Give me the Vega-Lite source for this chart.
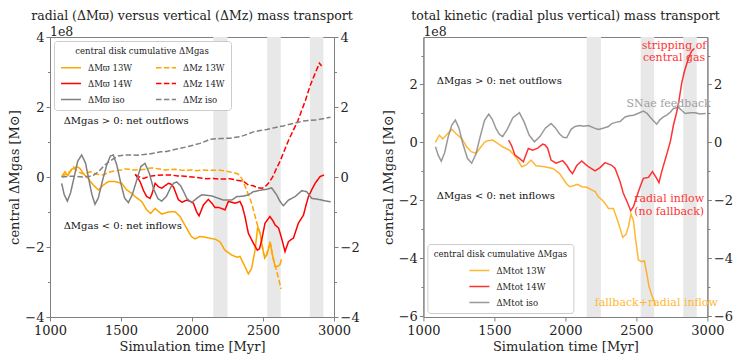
{
  "$schema": "https://vega.github.io/schema/vega-lite/v6.json",
  "background": "white",
  "padding": {"left": 8, "top": 9, "right": 0, "bottom": 0},
  "config": {
    "font": "DejaVu Serif",
    "view": {"stroke": "#808080", "strokeWidth": 1},
    "axis": {"labelFont": "DejaVu Serif", "labelFontSize": 13, "labelColor": "#222222", "labelFlush": false, "titleFont": "DejaVu Serif", "titleFontSize": 13, "titleFontWeight": "normal", "titleColor": "#222222", "domainColor": "#808080", "tickColor": "#808080", "grid": false, "labelPadding": 2},
    "axisX": {"labelPadding": 3, "titlePadding": 3},
    "title": {"font": "DejaVu Serif", "fontSize": 12.5, "fontWeight": "normal", "color": "#222222", "offset": 0, "frame": "group"},
    "legend": {"labelFont": "DejaVu Serif", "labelFontSize": 8.5, "labelColor": "#222222", "titleFont": "DejaVu Serif", "titleFontSize": 8.5, "titleFontWeight": "normal", "titleColor": "#222222", "fillColor": "white", "strokeColor": "#cccccc", "cornerRadius": 3, "padding": 6, "symbolStrokeWidth": 1.5, "symbolType": "stroke", "symbolSize": 400, "rowPadding": -12, "labelOffset": 6, "titleAnchor": "middle", "titlePadding": 1}
  },
  "datasets": {
    "bands": [{"t0": 2150, "t1": 2250}, {"t0": 2530, "t1": 2625}, {"t0": 2830, "t1": 2925}],
    "ann": [
      {"panel": "L", "grp": "offset", "t": 1000, "v": 4, "label": "1e8"},
      {"panel": "R", "grp": "offset", "t": 1000, "v": 3.64, "label": "1e8"},
      {"panel": "L", "grp": "sign", "t": 1096, "v": 1.6, "label": "ΔMgas > 0: net outflows"},
      {"panel": "L", "grp": "sign", "t": 1096, "v": -1.4, "label": "ΔMgas < 0: net inflows"},
      {"panel": "R", "grp": "sign", "t": 1094, "v": 2.11, "label": "ΔMgas > 0: net outflows"},
      {"panel": "R", "grp": "sign", "t": 1094, "v": -1.85, "label": "ΔMgas < 0: net inflows"},
      {"panel": "R", "grp": "14W", "t": 2765, "v": 3.32, "label": "stripping of"},
      {"panel": "R", "grp": "14W", "t": 2765, "v": 2.91, "label": "central gas"},
      {"panel": "R", "grp": "iso", "t": 2727, "v": 1.32, "label": "SNae feedback"},
      {"panel": "R", "grp": "14W", "t": 2731, "v": -1.96, "label": "radial inflow"},
      {"panel": "R", "grp": "14W", "t": 2731, "v": -2.41, "label": "(no fallback)"},
      {"panel": "R", "grp": "13W", "t": 2640, "v": -5.54, "label": "fallback+radial inflow"}
    ],
    "rv": [
      {"s": "ΔMϖ 13W", "t": 1082, "v": 0.01}, {"s": "ΔMϖ 13W", "t": 1106, "v": 0.15}, {"s": "ΔMϖ 13W", "t": 1125, "v": 0.04}, {"s": "ΔMϖ 13W", "t": 1153, "v": 0.22}, {"s": "ΔMϖ 13W", "t": 1188, "v": 0.29}, {"s": "ΔMϖ 13W", "t": 1210, "v": 0.25}, {"s": "ΔMϖ 13W", "t": 1235, "v": 0.1}, {"s": "ΔMϖ 13W", "t": 1270, "v": -0.05}, {"s": "ΔMϖ 13W", "t": 1305, "v": -0.23}, {"s": "ΔMϖ 13W", "t": 1341, "v": -0.37}, {"s": "ΔMϖ 13W", "t": 1376, "v": -0.23}, {"s": "ΔMϖ 13W", "t": 1411, "v": -0.13}, {"s": "ΔMϖ 13W", "t": 1458, "v": -0.13}, {"s": "ΔMϖ 13W", "t": 1505, "v": -0.18}, {"s": "ΔMϖ 13W", "t": 1540, "v": -0.37}, {"s": "ΔMϖ 13W", "t": 1570, "v": -0.45}, {"s": "ΔMϖ 13W", "t": 1599, "v": -0.56}, {"s": "ΔMϖ 13W", "t": 1646, "v": -0.7}, {"s": "ΔMϖ 13W", "t": 1681, "v": -0.94}, {"s": "ΔMϖ 13W", "t": 1709, "v": -1.04}, {"s": "ΔMϖ 13W", "t": 1740, "v": -0.9}, {"s": "ΔMϖ 13W", "t": 1787, "v": -1.06}, {"s": "ΔMϖ 13W", "t": 1834, "v": -1.0}, {"s": "ΔMϖ 13W", "t": 1880, "v": -0.99}, {"s": "ΔMϖ 13W", "t": 1916, "v": -1.13}, {"s": "ΔMϖ 13W", "t": 1963, "v": -1.47}, {"s": "ΔMϖ 13W", "t": 1995, "v": -1.7}, {"s": "ΔMϖ 13W", "t": 2021, "v": -1.77}, {"s": "ΔMϖ 13W", "t": 2056, "v": -1.7}, {"s": "ΔMϖ 13W", "t": 2092, "v": -1.72}, {"s": "ΔMϖ 13W", "t": 2127, "v": -1.75}, {"s": "ΔMϖ 13W", "t": 2165, "v": -1.78}, {"s": "ΔMϖ 13W", "t": 2197, "v": -1.85}, {"s": "ΔMϖ 13W", "t": 2232, "v": -2.09}, {"s": "ΔMϖ 13W", "t": 2280, "v": -2.23}, {"s": "ΔMϖ 13W", "t": 2315, "v": -2.29}, {"s": "ΔMϖ 13W", "t": 2338, "v": -2.27}, {"s": "ΔMϖ 13W", "t": 2362, "v": -2.47}, {"s": "ΔMϖ 13W", "t": 2397, "v": -2.77}, {"s": "ΔMϖ 13W", "t": 2420, "v": -2.61}, {"s": "ΔMϖ 13W", "t": 2444, "v": -2.09}, {"s": "ΔMϖ 13W", "t": 2463, "v": -1.42}, {"s": "ΔMϖ 13W", "t": 2480, "v": -1.6}, {"s": "ΔMϖ 13W", "t": 2495, "v": -2.0}, {"s": "ΔMϖ 13W", "t": 2512, "v": -2.32}, {"s": "ΔMϖ 13W", "t": 2530, "v": -2.2}, {"s": "ΔMϖ 13W", "t": 2550, "v": -1.85}, {"s": "ΔMϖ 13W", "t": 2565, "v": -2.2}, {"s": "ΔMϖ 13W", "t": 2585, "v": -2.56}, {"s": "ΔMϖ 13W", "t": 2605, "v": -2.55}, {"s": "ΔMϖ 13W", "t": 2620, "v": -2.5}, {"s": "ΔMϖ 13W", "t": 2630, "v": -2.35},
      {"s": "ΔMz 13W", "t": 1082, "v": 0.0}, {"s": "ΔMz 13W", "t": 1100, "v": 0.05}, {"s": "ΔMz 13W", "t": 1117, "v": 0.1}, {"s": "ΔMz 13W", "t": 1140, "v": 0.15}, {"s": "ΔMz 13W", "t": 1165, "v": 0.29}, {"s": "ΔMz 13W", "t": 1180, "v": 0.2}, {"s": "ΔMz 13W", "t": 1200, "v": 0.15}, {"s": "ΔMz 13W", "t": 1225, "v": 0.1}, {"s": "ΔMz 13W", "t": 1247, "v": 0.1}, {"s": "ΔMz 13W", "t": 1282, "v": 0.15}, {"s": "ΔMz 13W", "t": 1305, "v": 0.12}, {"s": "ΔMz 13W", "t": 1329, "v": 0.08}, {"s": "ΔMz 13W", "t": 1376, "v": 0.06}, {"s": "ΔMz 13W", "t": 1411, "v": 0.13}, {"s": "ΔMz 13W", "t": 1458, "v": 0.18}, {"s": "ΔMz 13W", "t": 1500, "v": 0.2}, {"s": "ΔMz 13W", "t": 1528, "v": 0.23}, {"s": "ΔMz 13W", "t": 1560, "v": 0.22}, {"s": "ΔMz 13W", "t": 1599, "v": 0.2}, {"s": "ΔMz 13W", "t": 1640, "v": 0.21}, {"s": "ΔMz 13W", "t": 1669, "v": 0.22}, {"s": "ΔMz 13W", "t": 1710, "v": 0.26}, {"s": "ΔMz 13W", "t": 1740, "v": 0.25}, {"s": "ΔMz 13W", "t": 1780, "v": 0.22}, {"s": "ΔMz 13W", "t": 1810, "v": 0.2}, {"s": "ΔMz 13W", "t": 1850, "v": 0.21}, {"s": "ΔMz 13W", "t": 1880, "v": 0.22}, {"s": "ΔMz 13W", "t": 1920, "v": 0.2}, {"s": "ΔMz 13W", "t": 1963, "v": 0.19}, {"s": "ΔMz 13W", "t": 2000, "v": 0.2}, {"s": "ΔMz 13W", "t": 2033, "v": 0.18}, {"s": "ΔMz 13W", "t": 2070, "v": 0.2}, {"s": "ΔMz 13W", "t": 2104, "v": 0.19}, {"s": "ΔMz 13W", "t": 2150, "v": 0.19}, {"s": "ΔMz 13W", "t": 2197, "v": 0.19}, {"s": "ΔMz 13W", "t": 2240, "v": 0.17}, {"s": "ΔMz 13W", "t": 2268, "v": 0.14}, {"s": "ΔMz 13W", "t": 2300, "v": 0.12}, {"s": "ΔMz 13W", "t": 2327, "v": 0.08}, {"s": "ΔMz 13W", "t": 2350, "v": -0.04}, {"s": "ΔMz 13W", "t": 2385, "v": -0.37}, {"s": "ΔMz 13W", "t": 2420, "v": -0.75}, {"s": "ΔMz 13W", "t": 2456, "v": -1.3}, {"s": "ΔMz 13W", "t": 2484, "v": -1.7}, {"s": "ΔMz 13W", "t": 2505, "v": -2.2}, {"s": "ΔMz 13W", "t": 2520, "v": -2.3}, {"s": "ΔMz 13W", "t": 2540, "v": -2.0}, {"s": "ΔMz 13W", "t": 2555, "v": -1.95}, {"s": "ΔMz 13W", "t": 2570, "v": -2.3}, {"s": "ΔMz 13W", "t": 2590, "v": -2.6}, {"s": "ΔMz 13W", "t": 2610, "v": -2.9}, {"s": "ΔMz 13W", "t": 2627, "v": -3.2},
      {"s": "ΔMϖ 14W", "t": 1600, "v": 0.08}, {"s": "ΔMϖ 14W", "t": 1634, "v": -0.13}, {"s": "ΔMϖ 14W", "t": 1660, "v": -0.4}, {"s": "ΔMϖ 14W", "t": 1681, "v": -0.56}, {"s": "ΔMϖ 14W", "t": 1704, "v": -0.61}, {"s": "ΔMϖ 14W", "t": 1716, "v": -0.51}, {"s": "ΔMϖ 14W", "t": 1740, "v": -0.18}, {"s": "ΔMϖ 14W", "t": 1765, "v": -0.28}, {"s": "ΔMϖ 14W", "t": 1787, "v": -0.32}, {"s": "ΔMϖ 14W", "t": 1810, "v": -0.25}, {"s": "ΔMϖ 14W", "t": 1834, "v": -0.18}, {"s": "ΔMϖ 14W", "t": 1850, "v": -0.2}, {"s": "ΔMϖ 14W", "t": 1869, "v": -0.28}, {"s": "ΔMϖ 14W", "t": 1890, "v": -0.5}, {"s": "ΔMϖ 14W", "t": 1904, "v": -0.65}, {"s": "ΔMϖ 14W", "t": 1930, "v": -0.72}, {"s": "ΔMϖ 14W", "t": 1963, "v": -0.66}, {"s": "ΔMϖ 14W", "t": 1990, "v": -0.7}, {"s": "ΔMϖ 14W", "t": 2010, "v": -0.75}, {"s": "ΔMϖ 14W", "t": 2033, "v": -1.0}, {"s": "ΔMϖ 14W", "t": 2050, "v": -1.11}, {"s": "ΔMϖ 14W", "t": 2080, "v": -0.8}, {"s": "ΔMϖ 14W", "t": 2115, "v": -0.64}, {"s": "ΔMϖ 14W", "t": 2140, "v": -0.75}, {"s": "ΔMϖ 14W", "t": 2162, "v": -0.87}, {"s": "ΔMϖ 14W", "t": 2186, "v": -0.87}, {"s": "ΔMϖ 14W", "t": 2210, "v": -0.9}, {"s": "ΔMϖ 14W", "t": 2232, "v": -0.94}, {"s": "ΔMϖ 14W", "t": 2256, "v": -0.7}, {"s": "ΔMϖ 14W", "t": 2280, "v": -0.72}, {"s": "ΔMϖ 14W", "t": 2303, "v": -0.75}, {"s": "ΔMϖ 14W", "t": 2338, "v": -0.7}, {"s": "ΔMϖ 14W", "t": 2355, "v": -0.85}, {"s": "ΔMϖ 14W", "t": 2373, "v": -1.13}, {"s": "ΔMϖ 14W", "t": 2397, "v": -1.61}, {"s": "ΔMϖ 14W", "t": 2432, "v": -1.89}, {"s": "ΔMϖ 14W", "t": 2460, "v": -2.09}, {"s": "ΔMϖ 14W", "t": 2475, "v": -2.05}, {"s": "ΔMϖ 14W", "t": 2491, "v": -1.8}, {"s": "ΔMϖ 14W", "t": 2514, "v": -1.32}, {"s": "ΔMϖ 14W", "t": 2549, "v": -1.13}, {"s": "ΔMϖ 14W", "t": 2570, "v": -1.25}, {"s": "ΔMϖ 14W", "t": 2585, "v": -1.37}, {"s": "ΔMϖ 14W", "t": 2610, "v": -1.46}, {"s": "ΔMϖ 14W", "t": 2631, "v": -1.75}, {"s": "ΔMϖ 14W", "t": 2655, "v": -2.13}, {"s": "ΔMϖ 14W", "t": 2679, "v": -1.85}, {"s": "ΔMϖ 14W", "t": 2700, "v": -1.78}, {"s": "ΔMϖ 14W", "t": 2714, "v": -1.75}, {"s": "ΔMϖ 14W", "t": 2749, "v": -1.32}, {"s": "ΔMϖ 14W", "t": 2785, "v": -1.09}, {"s": "ΔMϖ 14W", "t": 2800, "v": -0.85}, {"s": "ΔMϖ 14W", "t": 2820, "v": -0.56}, {"s": "ΔMϖ 14W", "t": 2845, "v": -0.35}, {"s": "ΔMϖ 14W", "t": 2867, "v": -0.18}, {"s": "ΔMϖ 14W", "t": 2902, "v": 0.01}, {"s": "ΔMϖ 14W", "t": 2930, "v": 0.06},
      {"s": "ΔMz 14W", "t": 1600, "v": 0.06}, {"s": "ΔMz 14W", "t": 1630, "v": 0.0}, {"s": "ΔMz 14W", "t": 1658, "v": -0.04}, {"s": "ΔMz 14W", "t": 1700, "v": 0.02}, {"s": "ΔMz 14W", "t": 1750, "v": 0.05}, {"s": "ΔMz 14W", "t": 1798, "v": 0.06}, {"s": "ΔMz 14W", "t": 1845, "v": 0.06}, {"s": "ΔMz 14W", "t": 1900, "v": 0.03}, {"s": "ΔMz 14W", "t": 1951, "v": 0.02}, {"s": "ΔMz 14W", "t": 2000, "v": 0.0}, {"s": "ΔMz 14W", "t": 2050, "v": -0.02}, {"s": "ΔMz 14W", "t": 2100, "v": -0.05}, {"s": "ΔMz 14W", "t": 2150, "v": -0.04}, {"s": "ΔMz 14W", "t": 2200, "v": -0.06}, {"s": "ΔMz 14W", "t": 2268, "v": -0.05}, {"s": "ΔMz 14W", "t": 2315, "v": -0.09}, {"s": "ΔMz 14W", "t": 2362, "v": -0.12}, {"s": "ΔMz 14W", "t": 2397, "v": -0.23}, {"s": "ΔMz 14W", "t": 2432, "v": -0.25}, {"s": "ΔMz 14W", "t": 2456, "v": -0.3}, {"s": "ΔMz 14W", "t": 2491, "v": -0.32}, {"s": "ΔMz 14W", "t": 2510, "v": -0.3}, {"s": "ΔMz 14W", "t": 2538, "v": -0.18}, {"s": "ΔMz 14W", "t": 2568, "v": 0.0}, {"s": "ΔMz 14W", "t": 2590, "v": 0.2}, {"s": "ΔMz 14W", "t": 2620, "v": 0.45}, {"s": "ΔMz 14W", "t": 2645, "v": 0.7}, {"s": "ΔMz 14W", "t": 2680, "v": 1.05}, {"s": "ΔMz 14W", "t": 2714, "v": 1.34}, {"s": "ΔMz 14W", "t": 2745, "v": 1.6}, {"s": "ΔMz 14W", "t": 2773, "v": 1.91}, {"s": "ΔMz 14W", "t": 2800, "v": 2.2}, {"s": "ΔMz 14W", "t": 2831, "v": 2.6}, {"s": "ΔMz 14W", "t": 2867, "v": 2.96}, {"s": "ΔMz 14W", "t": 2897, "v": 3.25}, {"s": "ΔMz 14W", "t": 2913, "v": 3.17},
      {"s": "ΔMϖ iso", "t": 1082, "v": -0.18}, {"s": "ΔMϖ iso", "t": 1100, "v": -0.5}, {"s": "ΔMϖ iso", "t": 1122, "v": -0.69}, {"s": "ΔMϖ iso", "t": 1145, "v": -0.45}, {"s": "ΔMϖ iso", "t": 1170, "v": 0.0}, {"s": "ΔMϖ iso", "t": 1195, "v": 0.45}, {"s": "ΔMϖ iso", "t": 1223, "v": 0.63}, {"s": "ΔMϖ iso", "t": 1250, "v": 0.4}, {"s": "ΔMϖ iso", "t": 1270, "v": 0.0}, {"s": "ΔMϖ iso", "t": 1295, "v": -0.5}, {"s": "ΔMϖ iso", "t": 1317, "v": -0.78}, {"s": "ΔMϖ iso", "t": 1340, "v": -0.6}, {"s": "ΔMϖ iso", "t": 1370, "v": -0.1}, {"s": "ΔMϖ iso", "t": 1400, "v": 0.35}, {"s": "ΔMϖ iso", "t": 1425, "v": 0.6}, {"s": "ΔMϖ iso", "t": 1446, "v": 0.63}, {"s": "ΔMϖ iso", "t": 1470, "v": 0.35}, {"s": "ΔMϖ iso", "t": 1500, "v": -0.2}, {"s": "ΔMϖ iso", "t": 1525, "v": -0.6}, {"s": "ΔMϖ iso", "t": 1552, "v": -0.73}, {"s": "ΔMϖ iso", "t": 1580, "v": -0.5}, {"s": "ΔMϖ iso", "t": 1610, "v": -0.1}, {"s": "ΔMϖ iso", "t": 1640, "v": 0.3}, {"s": "ΔMϖ iso", "t": 1669, "v": 0.39}, {"s": "ΔMϖ iso", "t": 1700, "v": 0.1}, {"s": "ΔMϖ iso", "t": 1730, "v": -0.35}, {"s": "ΔMϖ iso", "t": 1760, "v": -0.62}, {"s": "ΔMϖ iso", "t": 1787, "v": -0.69}, {"s": "ΔMϖ iso", "t": 1820, "v": -0.55}, {"s": "ΔMϖ iso", "t": 1850, "v": -0.3}, {"s": "ΔMϖ iso", "t": 1870, "v": -0.18}, {"s": "ΔMϖ iso", "t": 1892, "v": -0.14}, {"s": "ΔMϖ iso", "t": 1920, "v": -0.25}, {"s": "ΔMϖ iso", "t": 1945, "v": -0.45}, {"s": "ΔMϖ iso", "t": 1963, "v": -0.61}, {"s": "ΔMϖ iso", "t": 1998, "v": -0.73}, {"s": "ΔMϖ iso", "t": 2030, "v": -0.62}, {"s": "ΔMϖ iso", "t": 2068, "v": -0.51}, {"s": "ΔMϖ iso", "t": 2100, "v": -0.52}, {"s": "ΔMϖ iso", "t": 2139, "v": -0.54}, {"s": "ΔMϖ iso", "t": 2180, "v": -0.6}, {"s": "ΔMϖ iso", "t": 2221, "v": -0.66}, {"s": "ΔMϖ iso", "t": 2280, "v": -0.66}, {"s": "ΔMϖ iso", "t": 2315, "v": -0.56}, {"s": "ΔMϖ iso", "t": 2360, "v": -0.55}, {"s": "ΔMϖ iso", "t": 2397, "v": -0.51}, {"s": "ΔMϖ iso", "t": 2432, "v": -0.42}, {"s": "ΔMϖ iso", "t": 2491, "v": -0.37}, {"s": "ΔMϖ iso", "t": 2530, "v": -0.35}, {"s": "ΔMϖ iso", "t": 2561, "v": -0.31}, {"s": "ΔMϖ iso", "t": 2596, "v": -0.51}, {"s": "ΔMϖ iso", "t": 2620, "v": -0.7}, {"s": "ΔMϖ iso", "t": 2643, "v": -0.82}, {"s": "ΔMϖ iso", "t": 2679, "v": -0.66}, {"s": "ΔMϖ iso", "t": 2726, "v": -0.56}, {"s": "ΔMϖ iso", "t": 2773, "v": -0.39}, {"s": "ΔMϖ iso", "t": 2808, "v": -0.42}, {"s": "ΔMϖ iso", "t": 2843, "v": -0.61}, {"s": "ΔMϖ iso", "t": 2890, "v": -0.64}, {"s": "ΔMϖ iso", "t": 2937, "v": -0.68}, {"s": "ΔMϖ iso", "t": 2977, "v": -0.71},
      {"s": "ΔMz iso", "t": 1082, "v": 0.0}, {"s": "ΔMz iso", "t": 1130, "v": 0.02}, {"s": "ΔMz iso", "t": 1180, "v": 0.02}, {"s": "ΔMz iso", "t": 1230, "v": 0.0}, {"s": "ΔMz iso", "t": 1280, "v": 0.02}, {"s": "ΔMz iso", "t": 1305, "v": 0.05}, {"s": "ΔMz iso", "t": 1340, "v": 0.15}, {"s": "ΔMz iso", "t": 1388, "v": 0.35}, {"s": "ΔMz iso", "t": 1420, "v": 0.45}, {"s": "ΔMz iso", "t": 1446, "v": 0.52}, {"s": "ΔMz iso", "t": 1480, "v": 0.6}, {"s": "ΔMz iso", "t": 1528, "v": 0.63}, {"s": "ΔMz iso", "t": 1570, "v": 0.63}, {"s": "ΔMz iso", "t": 1610, "v": 0.62}, {"s": "ΔMz iso", "t": 1660, "v": 0.64}, {"s": "ΔMz iso", "t": 1700, "v": 0.66}, {"s": "ΔMz iso", "t": 1728, "v": 0.68}, {"s": "ΔMz iso", "t": 1780, "v": 0.72}, {"s": "ΔMz iso", "t": 1822, "v": 0.73}, {"s": "ΔMz iso", "t": 1870, "v": 0.78}, {"s": "ΔMz iso", "t": 1916, "v": 0.82}, {"s": "ΔMz iso", "t": 1963, "v": 0.86}, {"s": "ΔMz iso", "t": 2000, "v": 0.9}, {"s": "ΔMz iso", "t": 2056, "v": 0.96}, {"s": "ΔMz iso", "t": 2100, "v": 1.03}, {"s": "ΔMz iso", "t": 2127, "v": 1.08}, {"s": "ΔMz iso", "t": 2200, "v": 1.1}, {"s": "ΔMz iso", "t": 2268, "v": 1.11}, {"s": "ΔMz iso", "t": 2338, "v": 1.15}, {"s": "ΔMz iso", "t": 2390, "v": 1.22}, {"s": "ΔMz iso", "t": 2432, "v": 1.29}, {"s": "ΔMz iso", "t": 2480, "v": 1.33}, {"s": "ΔMz iso", "t": 2526, "v": 1.36}, {"s": "ΔMz iso", "t": 2580, "v": 1.41}, {"s": "ΔMz iso", "t": 2643, "v": 1.46}, {"s": "ΔMz iso", "t": 2714, "v": 1.53}, {"s": "ΔMz iso", "t": 2784, "v": 1.6}, {"s": "ΔMz iso", "t": 2830, "v": 1.62}, {"s": "ΔMz iso", "t": 2878, "v": 1.63}, {"s": "ΔMz iso", "t": 2930, "v": 1.67}, {"s": "ΔMz iso", "t": 2975, "v": 1.71}
    ],
    "tot": [
      {"s": "ΔMtot 13W", "t": 1085, "v": 0.0}, {"s": "ΔMtot 13W", "t": 1100, "v": 0.15}, {"s": "ΔMtot 13W", "t": 1113, "v": 0.25}, {"s": "ΔMtot 13W", "t": 1136, "v": 0.12}, {"s": "ΔMtot 13W", "t": 1160, "v": 0.25}, {"s": "ΔMtot 13W", "t": 1180, "v": 0.35}, {"s": "ΔMtot 13W", "t": 1200, "v": 0.45}, {"s": "ΔMtot 13W", "t": 1230, "v": 0.3}, {"s": "ΔMtot 13W", "t": 1255, "v": 0.2}, {"s": "ΔMtot 13W", "t": 1277, "v": 0.08}, {"s": "ΔMtot 13W", "t": 1305, "v": -0.15}, {"s": "ΔMtot 13W", "t": 1336, "v": -0.32}, {"s": "ΔMtot 13W", "t": 1371, "v": -0.38}, {"s": "ΔMtot 13W", "t": 1406, "v": -0.15}, {"s": "ΔMtot 13W", "t": 1430, "v": 0.0}, {"s": "ΔMtot 13W", "t": 1453, "v": 0.06}, {"s": "ΔMtot 13W", "t": 1488, "v": 0.08}, {"s": "ΔMtot 13W", "t": 1523, "v": -0.03}, {"s": "ΔMtot 13W", "t": 1558, "v": -0.15}, {"s": "ΔMtot 13W", "t": 1606, "v": -0.27}, {"s": "ΔMtot 13W", "t": 1652, "v": -0.5}, {"s": "ΔMtot 13W", "t": 1692, "v": -0.84}, {"s": "ΔMtot 13W", "t": 1723, "v": -0.78}, {"s": "ΔMtot 13W", "t": 1758, "v": -0.61}, {"s": "ΔMtot 13W", "t": 1793, "v": -0.81}, {"s": "ΔMtot 13W", "t": 1852, "v": -0.84}, {"s": "ΔMtot 13W", "t": 1911, "v": -0.9}, {"s": "ΔMtot 13W", "t": 1958, "v": -1.07}, {"s": "ΔMtot 13W", "t": 2005, "v": -1.41}, {"s": "ΔMtot 13W", "t": 2030, "v": -1.53}, {"s": "ΔMtot 13W", "t": 2056, "v": -1.5}, {"s": "ΔMtot 13W", "t": 2085, "v": -1.45}, {"s": "ΔMtot 13W", "t": 2115, "v": -1.53}, {"s": "ΔMtot 13W", "t": 2150, "v": -1.55}, {"s": "ΔMtot 13W", "t": 2185, "v": -1.64}, {"s": "ΔMtot 13W", "t": 2210, "v": -1.7}, {"s": "ΔMtot 13W", "t": 2232, "v": -1.88}, {"s": "ΔMtot 13W", "t": 2260, "v": -2.0}, {"s": "ΔMtot 13W", "t": 2279, "v": -2.1}, {"s": "ΔMtot 13W", "t": 2303, "v": -2.28}, {"s": "ΔMtot 13W", "t": 2338, "v": -2.28}, {"s": "ΔMtot 13W", "t": 2361, "v": -2.6}, {"s": "ΔMtot 13W", "t": 2385, "v": -2.97}, {"s": "ΔMtot 13W", "t": 2404, "v": -3.28}, {"s": "ΔMtot 13W", "t": 2427, "v": -3.17}, {"s": "ΔMtot 13W", "t": 2444, "v": -2.91}, {"s": "ΔMtot 13W", "t": 2462, "v": -2.47}, {"s": "ΔMtot 13W", "t": 2479, "v": -2.7}, {"s": "ΔMtot 13W", "t": 2495, "v": -3.37}, {"s": "ΔMtot 13W", "t": 2514, "v": -4.06}, {"s": "ΔMtot 13W", "t": 2538, "v": -4.12}, {"s": "ΔMtot 13W", "t": 2556, "v": -4.09}, {"s": "ΔMtot 13W", "t": 2573, "v": -4.52}, {"s": "ΔMtot 13W", "t": 2589, "v": -4.98}, {"s": "ΔMtot 13W", "t": 2608, "v": -5.27}, {"s": "ΔMtot 13W", "t": 2627, "v": -5.5}, {"s": "ΔMtot 13W", "t": 2634, "v": -5.65},
      {"s": "ΔMtot 14W", "t": 1600, "v": 0.08}, {"s": "ΔMtot 14W", "t": 1620, "v": -0.1}, {"s": "ΔMtot 14W", "t": 1645, "v": -0.44}, {"s": "ΔMtot 14W", "t": 1676, "v": -0.55}, {"s": "ΔMtot 14W", "t": 1704, "v": -0.67}, {"s": "ΔMtot 14W", "t": 1720, "v": -0.45}, {"s": "ΔMtot 14W", "t": 1739, "v": -0.21}, {"s": "ΔMtot 14W", "t": 1770, "v": -0.27}, {"s": "ΔMtot 14W", "t": 1805, "v": -0.2}, {"s": "ΔMtot 14W", "t": 1840, "v": -0.06}, {"s": "ΔMtot 14W", "t": 1857, "v": -0.09}, {"s": "ΔMtot 14W", "t": 1875, "v": -0.2}, {"s": "ΔMtot 14W", "t": 1899, "v": -0.61}, {"s": "ΔMtot 14W", "t": 1934, "v": -0.72}, {"s": "ΔMtot 14W", "t": 1981, "v": -0.63}, {"s": "ΔMtot 14W", "t": 2009, "v": -0.79}, {"s": "ΔMtot 14W", "t": 2030, "v": -0.96}, {"s": "ΔMtot 14W", "t": 2050, "v": -1.08}, {"s": "ΔMtot 14W", "t": 2080, "v": -0.8}, {"s": "ΔMtot 14W", "t": 2115, "v": -0.64}, {"s": "ΔMtot 14W", "t": 2140, "v": -0.75}, {"s": "ΔMtot 14W", "t": 2162, "v": -0.84}, {"s": "ΔMtot 14W", "t": 2209, "v": -0.98}, {"s": "ΔMtot 14W", "t": 2244, "v": -0.87}, {"s": "ΔMtot 14W", "t": 2279, "v": -0.7}, {"s": "ΔMtot 14W", "t": 2326, "v": -0.79}, {"s": "ΔMtot 14W", "t": 2350, "v": -0.9}, {"s": "ΔMtot 14W", "t": 2385, "v": -1.36}, {"s": "ΔMtot 14W", "t": 2408, "v": -1.76}, {"s": "ΔMtot 14W", "t": 2439, "v": -2.1}, {"s": "ΔMtot 14W", "t": 2460, "v": -2.36}, {"s": "ΔMtot 14W", "t": 2479, "v": -2.22}, {"s": "ΔMtot 14W", "t": 2502, "v": -1.88}, {"s": "ΔMtot 14W", "t": 2525, "v": -1.55}, {"s": "ΔMtot 14W", "t": 2549, "v": -1.24}, {"s": "ΔMtot 14W", "t": 2585, "v": -1.21}, {"s": "ΔMtot 14W", "t": 2613, "v": -1.01}, {"s": "ΔMtot 14W", "t": 2643, "v": -1.24}, {"s": "ΔMtot 14W", "t": 2659, "v": -1.39}, {"s": "ΔMtot 14W", "t": 2678, "v": -1.01}, {"s": "ΔMtot 14W", "t": 2702, "v": -0.61}, {"s": "ΔMtot 14W", "t": 2720, "v": -0.3}, {"s": "ΔMtot 14W", "t": 2740, "v": 0.05}, {"s": "ΔMtot 14W", "t": 2761, "v": 0.6}, {"s": "ΔMtot 14W", "t": 2784, "v": 1.05}, {"s": "ΔMtot 14W", "t": 2800, "v": 1.45}, {"s": "ΔMtot 14W", "t": 2819, "v": 2.05}, {"s": "ΔMtot 14W", "t": 2838, "v": 2.45}, {"s": "ΔMtot 14W", "t": 2866, "v": 2.9}, {"s": "ΔMtot 14W", "t": 2889, "v": 3.15}, {"s": "ΔMtot 14W", "t": 2908, "v": 3.24},
      {"s": "ΔMtot iso", "t": 1085, "v": -0.15}, {"s": "ΔMtot iso", "t": 1105, "v": -0.45}, {"s": "ΔMtot iso", "t": 1126, "v": -0.65}, {"s": "ΔMtot iso", "t": 1150, "v": -0.35}, {"s": "ΔMtot iso", "t": 1175, "v": 0.2}, {"s": "ΔMtot iso", "t": 1200, "v": 0.6}, {"s": "ΔMtot iso", "t": 1225, "v": 0.77}, {"s": "ΔMtot iso", "t": 1250, "v": 0.5}, {"s": "ΔMtot iso", "t": 1277, "v": -0.03}, {"s": "ΔMtot iso", "t": 1310, "v": -0.55}, {"s": "ΔMtot iso", "t": 1340, "v": -0.72}, {"s": "ΔMtot iso", "t": 1370, "v": -0.4}, {"s": "ΔMtot iso", "t": 1400, "v": 0.2}, {"s": "ΔMtot iso", "t": 1430, "v": 0.75}, {"s": "ΔMtot iso", "t": 1460, "v": 0.98}, {"s": "ΔMtot iso", "t": 1485, "v": 0.8}, {"s": "ΔMtot iso", "t": 1511, "v": 0.48}, {"s": "ΔMtot iso", "t": 1535, "v": 0.28}, {"s": "ΔMtot iso", "t": 1558, "v": 0.2}, {"s": "ΔMtot iso", "t": 1590, "v": 0.45}, {"s": "ΔMtot iso", "t": 1630, "v": 0.85}, {"s": "ΔMtot iso", "t": 1676, "v": 1.03}, {"s": "ΔMtot iso", "t": 1710, "v": 0.7}, {"s": "ΔMtot iso", "t": 1745, "v": 0.25}, {"s": "ΔMtot iso", "t": 1782, "v": 0.02}, {"s": "ΔMtot iso", "t": 1820, "v": 0.2}, {"s": "ΔMtot iso", "t": 1860, "v": 0.5}, {"s": "ΔMtot iso", "t": 1899, "v": 0.65}, {"s": "ΔMtot iso", "t": 1930, "v": 0.5}, {"s": "ΔMtot iso", "t": 1958, "v": 0.3}, {"s": "ΔMtot iso", "t": 1985, "v": 0.18}, {"s": "ΔMtot iso", "t": 2009, "v": 0.16}, {"s": "ΔMtot iso", "t": 2040, "v": 0.45}, {"s": "ΔMtot iso", "t": 2068, "v": 0.55}, {"s": "ΔMtot iso", "t": 2100, "v": 0.58}, {"s": "ΔMtot iso", "t": 2130, "v": 0.56}, {"s": "ΔMtot iso", "t": 2162, "v": 0.58}, {"s": "ΔMtot iso", "t": 2200, "v": 0.5}, {"s": "ΔMtot iso", "t": 2232, "v": 0.45}, {"s": "ΔMtot iso", "t": 2270, "v": 0.5}, {"s": "ΔMtot iso", "t": 2303, "v": 0.55}, {"s": "ΔMtot iso", "t": 2326, "v": 0.65}, {"s": "ΔMtot iso", "t": 2360, "v": 0.7}, {"s": "ΔMtot iso", "t": 2385, "v": 0.72}, {"s": "ΔMtot iso", "t": 2420, "v": 0.88}, {"s": "ΔMtot iso", "t": 2450, "v": 0.92}, {"s": "ΔMtot iso", "t": 2479, "v": 0.94}, {"s": "ΔMtot iso", "t": 2510, "v": 1.0}, {"s": "ΔMtot iso", "t": 2549, "v": 1.08}, {"s": "ΔMtot iso", "t": 2575, "v": 1.0}, {"s": "ΔMtot iso", "t": 2596, "v": 0.88}, {"s": "ΔMtot iso", "t": 2620, "v": 0.75}, {"s": "ΔMtot iso", "t": 2643, "v": 0.63}, {"s": "ΔMtot iso", "t": 2665, "v": 0.78}, {"s": "ΔMtot iso", "t": 2690, "v": 0.88}, {"s": "ΔMtot iso", "t": 2714, "v": 0.94}, {"s": "ΔMtot iso", "t": 2740, "v": 1.05}, {"s": "ΔMtot iso", "t": 2761, "v": 1.17}, {"s": "ΔMtot iso", "t": 2796, "v": 1.21}, {"s": "ΔMtot iso", "t": 2820, "v": 1.1}, {"s": "ΔMtot iso", "t": 2843, "v": 1.0}, {"s": "ΔMtot iso", "t": 2880, "v": 1.02}, {"s": "ΔMtot iso", "t": 2914, "v": 1.02}, {"s": "ΔMtot iso", "t": 2948, "v": 0.98}, {"s": "ΔMtot iso", "t": 2988, "v": 1.0}
    ]
  },
  "bounds": "flush",
  "spacing": 89.4,
  "resolve": {
    "scale": {"color": "independent", "strokeDash": "independent", "x": "independent", "y": "independent"},
    "legend": {"color": "independent", "strokeDash": "independent"}
  },
  "hconcat": [
    {
      "width": 284,
      "height": 280,
      "title": "radial (ΔMϖ) versus vertical (ΔMz) mass transport",
      "resolve": {"axis": {"y": "independent"}},
      "layer": [
        {
          "data": {"name": "bands"},
          "mark": {"type": "rect", "color": "#e8e8e8"},
          "encoding": {
            "x": {"field": "t0", "type": "quantitative", "scale": {"domain": [1000, 3000], "nice": false}, "axis": {"title": "Simulation time [Myr]", "values": [1000, 1500, 2000, 2500, 3000], "format": "d", "tickSize": 4}},
            "x2": {"field": "t1"}
          }
        },
        {
          "data": {"name": "rv"},
          "mark": {"type": "line", "strokeWidth": 1.5},
          "encoding": {
            "x": {"field": "t", "type": "quantitative", "scale": {"domain": [1000, 3000], "nice": false}, "axis": {"title": "Simulation time [Myr]", "values": [1000, 1500, 2000, 2500, 3000], "format": "d", "tickSize": 4}},
            "y": {"field": "v", "type": "quantitative", "scale": {"domain": [-4, 4], "nice": false, "zero": false}, "axis": {"orient": "left", "title": "central ΔMgas [M⊙]", "titlePadding": 3, "values": [-4, -3, -2, -1, 0, 1, 2, 3, 4], "labelExpr": "datum.value % 2 === 0 ? datum.label : ''", "tickSize": {"condition": {"test": "datum.value % 2 !== 0", "value": 2.5}, "value": 4}}},
            "color": {"field": "s", "type": "nominal", "scale": {"domain": ["ΔMϖ 13W", "ΔMϖ 14W", "ΔMϖ iso", "ΔMz 13W", "ΔMz 14W", "ΔMz iso"], "range": ["#ffa500", "#ff0000", "#808080", "#ffa500", "#ff0000", "#808080"]}, "legend": {"title": "central disk cumulative ΔMgas", "orient": "top-left", "offset": 4, "columns": 2, "columnPadding": 20}},
            "strokeDash": {"field": "s", "type": "nominal", "scale": {"domain": ["ΔMϖ 13W", "ΔMϖ 14W", "ΔMϖ iso", "ΔMz 13W", "ΔMz 14W", "ΔMz iso"], "range": [[1, 0], [1, 0], [1, 0], [5.5, 2.4], [5.5, 2.4], [5.5, 2.4]]}, "legend": {"title": "central disk cumulative ΔMgas", "orient": "top-left", "offset": 4, "columns": 2, "columnPadding": 20}}
          }
        },
        {
          "mark": {"type": "rule", "color": "black", "strokeWidth": 1, "strokeDash": [1, 2]},
          "encoding": {
            "y": {"datum": 0, "type": "quantitative", "scale": {"domain": [-4, 4], "nice": false, "zero": false}, "axis": {"orient": "right", "title": null, "values": [-4, -3, -2, -1, 0, 1, 2, 3, 4], "labelExpr": "datum.value % 2 === 0 ? datum.label : ''", "tickSize": {"condition": {"test": "datum.value % 2 !== 0", "value": 2.5}, "value": 4}}}
          }
        },
        {
          "data": {"name": "ann"},
          "transform": [{"filter": "datum.panel === 'L' && datum.grp === 'sign'"}],
          "mark": {"type": "text", "align": "left", "baseline": "middle", "fontSize": 10, "color": "#111111"},
          "encoding": {
            "x": {"field": "t", "type": "quantitative", "scale": {"domain": [1000, 3000], "nice": false}, "axis": {"title": "Simulation time [Myr]", "values": [1000, 1500, 2000, 2500, 3000], "format": "d", "tickSize": 4}},
            "y": {"field": "v", "type": "quantitative", "scale": {"domain": [-4, 4], "nice": false, "zero": false}, "axis": null},
            "text": {"field": "label"}
          }
        },
        {
          "data": {"name": "ann"},
          "transform": [{"filter": "datum.panel === 'L' && datum.grp === 'offset'"}],
          "mark": {"type": "text", "align": "left", "baseline": "alphabetic", "dy": -1, "fontSize": 12.5, "color": "#222222"},
          "encoding": {
            "x": {"field": "t", "type": "quantitative", "scale": {"domain": [1000, 3000], "nice": false}, "axis": {"title": "Simulation time [Myr]", "values": [1000, 1500, 2000, 2500, 3000], "format": "d", "tickSize": 4}},
            "y": {"field": "v", "type": "quantitative", "scale": {"domain": [-4, 4], "nice": false, "zero": false}, "axis": null},
            "text": {"field": "label"}
          }
        }
      ]
    },
    {
      "width": 284,
      "height": 280,
      "title": "total kinetic (radial plus vertical) mass transport",
      "resolve": {"axis": {"y": "independent"}},
      "layer": [
        {
          "data": {"name": "bands"},
          "mark": {"type": "rect", "color": "#e8e8e8"},
          "encoding": {
            "x": {"field": "t0", "type": "quantitative", "scale": {"domain": [1000, 3000], "nice": false}, "axis": {"title": "Simulation time [Myr]", "values": [1000, 1500, 2000, 2500, 3000], "format": "d", "tickSize": 4}},
            "x2": {"field": "t1"}
          }
        },
        {
          "data": {"name": "tot"},
          "mark": {"type": "line", "strokeWidth": 1.5, "opacity": 0.8},
          "encoding": {
            "x": {"field": "t", "type": "quantitative", "scale": {"domain": [1000, 3000], "nice": false}, "axis": {"title": "Simulation time [Myr]", "values": [1000, 1500, 2000, 2500, 3000], "format": "d", "tickSize": 4}},
            "y": {"field": "v", "type": "quantitative", "scale": {"domain": [-6.03, 3.64], "nice": false, "zero": false}, "axis": {"orient": "left", "title": "central ΔMgas [M⊙]", "titlePadding": 3, "values": [-6, -5, -4, -3, -2, -1, 0, 1, 2, 3], "labelExpr": "datum.value % 2 === 0 ? datum.label : ''", "tickSize": {"condition": {"test": "datum.value % 2 !== 0", "value": 2.5}, "value": 4}}},
            "color": {"field": "s", "type": "nominal", "scale": {"domain": ["ΔMtot 13W", "ΔMtot 14W", "ΔMtot iso"], "range": ["#ffa500", "#ff0000", "#808080"]}, "legend": {"title": "central disk cumulative ΔMgas", "orient": "bottom-left", "offset": 4, "symbolOffset": 14}}
          }
        },
        {
          "mark": {"type": "rule", "color": "black", "strokeWidth": 1, "strokeDash": [1, 2]},
          "encoding": {
            "y": {"datum": 0, "type": "quantitative", "scale": {"domain": [-6.03, 3.64], "nice": false, "zero": false}, "axis": {"orient": "right", "title": null, "values": [-6, -5, -4, -3, -2, -1, 0, 1, 2, 3], "labelExpr": "datum.value % 2 === 0 ? datum.label : ''", "tickSize": {"condition": {"test": "datum.value % 2 !== 0", "value": 2.5}, "value": 4}}}
          }
        },
        {
          "data": {"name": "ann"},
          "transform": [{"filter": "datum.panel === 'R' && datum.grp === 'sign'"}],
          "mark": {"type": "text", "align": "left", "baseline": "middle", "fontSize": 10, "color": "#111111"},
          "encoding": {
            "x": {"field": "t", "type": "quantitative", "scale": {"domain": [1000, 3000], "nice": false}, "axis": {"title": "Simulation time [Myr]", "values": [1000, 1500, 2000, 2500, 3000], "format": "d", "tickSize": 4}},
            "y": {"field": "v", "type": "quantitative", "scale": {"domain": [-6.03, 3.64], "nice": false, "zero": false}, "axis": null},
            "text": {"field": "label"}
          }
        },
        {
          "data": {"name": "ann"},
          "transform": [{"filter": "datum.panel === 'R' && datum.grp === '14W'"}],
          "mark": {"type": "text", "align": "center", "baseline": "middle", "fontSize": 11, "color": "#ff3333"},
          "encoding": {
            "x": {"field": "t", "type": "quantitative", "scale": {"domain": [1000, 3000], "nice": false}, "axis": {"title": "Simulation time [Myr]", "values": [1000, 1500, 2000, 2500, 3000], "format": "d", "tickSize": 4}},
            "y": {"field": "v", "type": "quantitative", "scale": {"domain": [-6.03, 3.64], "nice": false, "zero": false}, "axis": null},
            "text": {"field": "label"}
          }
        },
        {
          "data": {"name": "ann"},
          "transform": [{"filter": "datum.panel === 'R' && datum.grp === '13W'"}],
          "mark": {"type": "text", "align": "center", "baseline": "middle", "fontSize": 11, "color": "#ffb733"},
          "encoding": {
            "x": {"field": "t", "type": "quantitative", "scale": {"domain": [1000, 3000], "nice": false}, "axis": {"title": "Simulation time [Myr]", "values": [1000, 1500, 2000, 2500, 3000], "format": "d", "tickSize": 4}},
            "y": {"field": "v", "type": "quantitative", "scale": {"domain": [-6.03, 3.64], "nice": false, "zero": false}, "axis": null},
            "text": {"field": "label"}
          }
        },
        {
          "data": {"name": "ann"},
          "transform": [{"filter": "datum.panel === 'R' && datum.grp === 'iso'"}],
          "mark": {"type": "text", "align": "center", "baseline": "middle", "fontSize": 11, "color": "#a0a0a0"},
          "encoding": {
            "x": {"field": "t", "type": "quantitative", "scale": {"domain": [1000, 3000], "nice": false}, "axis": {"title": "Simulation time [Myr]", "values": [1000, 1500, 2000, 2500, 3000], "format": "d", "tickSize": 4}},
            "y": {"field": "v", "type": "quantitative", "scale": {"domain": [-6.03, 3.64], "nice": false, "zero": false}, "axis": null},
            "text": {"field": "label"}
          }
        },
        {
          "data": {"name": "ann"},
          "transform": [{"filter": "datum.panel === 'R' && datum.grp === 'offset'"}],
          "mark": {"type": "text", "align": "left", "baseline": "alphabetic", "dy": -1, "fontSize": 12.5, "color": "#222222"},
          "encoding": {
            "x": {"field": "t", "type": "quantitative", "scale": {"domain": [1000, 3000], "nice": false}, "axis": {"title": "Simulation time [Myr]", "values": [1000, 1500, 2000, 2500, 3000], "format": "d", "tickSize": 4}},
            "y": {"field": "v", "type": "quantitative", "scale": {"domain": [-6.03, 3.64], "nice": false, "zero": false}, "axis": null},
            "text": {"field": "label"}
          }
        }
      ]
    }
  ]
}
